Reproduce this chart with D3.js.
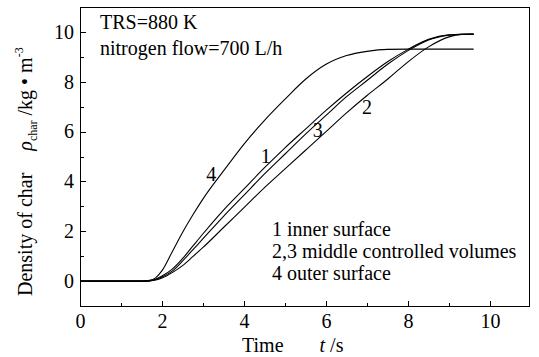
<!DOCTYPE html>
<meta charset="utf-8">
<style>
  body { margin: 0; background: #fff; }
  svg text { font-family: "Liberation Serif", "Times New Roman", serif; fill: #000; }
</style>

<!-- Load d3.js -->
<script src="https://d3js.org/d3.v7.min.js"></script>

<div id="char-chart"></div>

<script>

// data: time in s, density of char in kg/m3
var timeS = [0, 1.5, 1.7, 1.85, 2.0, 2.25, 2.5, 2.75, 3.0, 3.5, 4.0, 4.5, 5.0, 5.5, 6.0, 6.5, 7.0, 7.5, 8.0, 8.5, 9.0, 9.3, 9.6];
var inner1  = [0, 0, 0.02, 0.08, 0.2, 0.48, 0.9, 1.4, 1.9, 2.85, 3.7, 4.55, 5.35, 6.1, 6.85, 7.55, 8.2, 8.8, 9.3, 9.7, 9.88, 9.9, 9.9];
var middle2 = [0, 0, 0.01, 0.04, 0.12, 0.34, 0.62, 0.98, 1.35, 2.15, 2.95, 3.75, 4.5, 5.25, 6.0, 6.75, 7.45, 8.1, 8.8, 9.4, 9.8, 9.9, 9.92];
var middle3 = [0, 0, 0.01, 0.06, 0.16, 0.4, 0.8, 1.25, 1.7, 2.6, 3.45, 4.3, 5.1, 5.9, 6.65, 7.4, 8.05, 8.7, 9.25, 9.68, 9.87, 9.9, 9.9];
var outer4  = [0, 0, 0.03, 0.14, 0.42, 1.18, 1.95, 2.65, 3.3, 4.42, 5.5, 6.45, 7.3, 8.1, 8.7, 9.05, 9.22, 9.3, 9.31, 9.31, 9.31, 9.31, 9.31];

var curveNames = ["1", "2", "3", "4"];
var curveValues = [inner1, middle2, middle3, outer4];
// where the curve number sits: [time, density]
var curveLabelAt = [[4.53, 4.75], [7.0, 6.7], [5.8, 5.8], [3.2, 4.0]];

var xTicks = [0, 2, 4, 6, 8, 10];
var xMinor = [1, 3, 5, 7, 9];
var yTicks = [0, 2, 4, 6, 8, 10];
var yMinor = [1, 3, 5, 7, 9];

var notes = ["TRS=880 K", "nitrogen flow=700 L/h"];
var legendLines = ["1 inner surface", "2,3 middle controlled volumes", "4 outer surface"];

// set the dimensions and margins of the graph
var margin = {top: 7, right: 10, bottom: 51, left: 80},
    width = 539 - margin.left - margin.right,
    height = 357 - margin.top - margin.bottom;

var svg = d3.select("#char-chart")
  .append("svg")
    .attr("width", width + margin.left + margin.right)
    .attr("height", height + margin.top + margin.bottom)
  .append("g")
    .attr("transform", "translate(" + margin.left + "," + margin.top + ")");

var x = d3.scaleLinear().domain([0, 10.95]).range([0, width]);
var y = d3.scaleLinear().domain([-1, 11]).range([height, 0]);

// X axis, ticks pointing inwards
svg.append("g")
  .attr("transform", "translate(0," + height + ")")
  .call(d3.axisBottom(x).tickValues(xTicks).tickSize(-5).tickPadding(8).tickFormat(d3.format("d")));
svg.append("g")
  .attr("transform", "translate(0," + height + ")")
  .call(d3.axisBottom(x).tickValues(xMinor).tickSize(-3).tickFormat(""));

// Y axis
svg.append("g")
  .call(d3.axisLeft(y).tickValues(yTicks).tickSize(-6).tickPadding(6).tickFormat(d3.format("d")));
svg.append("g")
  .call(d3.axisLeft(y).tickValues(yMinor).tickSize(-4).tickFormat(""));

svg.selectAll(".domain").remove();
svg.selectAll(".tick line").attr("stroke", "#000").attr("stroke-width", 1).attr("shape-rendering", "crispEdges");
svg.selectAll(".tick text").style("font-size", "20px").style("font-family", "'Liberation Serif', serif");

// frame
svg.append("rect")
  .attr("x", 0).attr("y", 0)
  .attr("width", width).attr("height", height)
  .attr("fill", "none")
  .attr("stroke", "#000")
  .attr("stroke-width", 1)
  .attr("shape-rendering", "crispEdges");

// curves
var line = d3.line()
  .x(function(d) { return x(d[0]); })
  .y(function(d) { return y(d[1]); })
  .curve(d3.curveMonotoneX);

curveValues.forEach(function(vals) {
  svg.append("path")
    .datum(timeS.map(function(t, i) { return [t, vals[i]]; }))
    .attr("fill", "none")
    .attr("stroke", "#000")
    .attr("stroke-width", 1.1)
    .attr("d", line);
});

// curve numbers
svg.selectAll(".curve-label")
  .data(curveNames)
  .enter().append("text")
    .attr("class", "curve-label")
    .attr("x", function(d, i) { return x(curveLabelAt[i][0]); })
    .attr("y", function(d, i) { return y(curveLabelAt[i][1]); })
    .attr("text-anchor", "middle")
    .style("font-size", "20px")
    .text(function(d) { return d; });

// conditions
svg.selectAll(".note")
  .data(notes)
  .enter().append("text")
    .attr("class", "note")
    .attr("x", 20)
    .attr("y", function(d, i) { return 22 + i * 26; })
    .style("font-size", "20px")
    .text(function(d) { return d; });

// legend
svg.selectAll(".legend")
  .data(legendLines)
  .enter().append("text")
    .attr("class", "legend")
    .attr("x", 192)
    .attr("y", function(d, i) { return 229 + i * 22; })
    .style("font-size", "20px")
    .text(function(d) { return d; });

// X title
var xt = svg.append("text")
  .attr("x", 162)
  .attr("y", height + 46)
  .style("font-size", "20px");
xt.append("tspan").text("Time");
xt.append("tspan").attr("dx", 36).style("font-style", "italic").text("t");
xt.append("tspan").text(" /s");

// Y title
var yt = svg.append("text")
  .attr("transform", "translate(" + (-48) + "," + (height - 10) + ") rotate(-90)")
  .style("font-size", "20px");
yt.append("tspan").text("Density of char");
yt.append("tspan").attr("dx", 22).style("font-style", "italic").text("ρ");
yt.append("tspan").attr("dy", 5).style("font-size", "12px").text("char");
yt.append("tspan").attr("dy", -5).text(" /kg • m");
yt.append("tspan").attr("dy", -9).style("font-size", "12px").text("-3");

</script>
